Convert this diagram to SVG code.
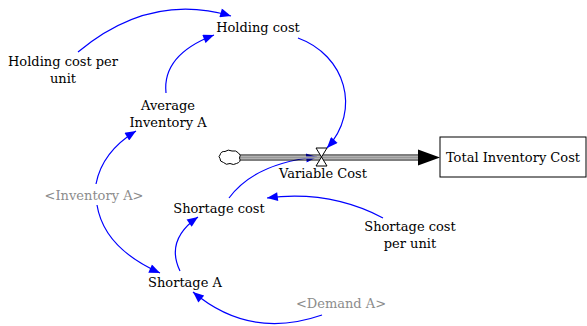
<svg xmlns="http://www.w3.org/2000/svg" width="587" height="326" viewBox="0 0 587 326">
<style>
text{font-family:'DejaVu Serif','Liberation Serif',serif;font-size:13px;text-anchor:middle;fill:#000}
.sh{fill:#8c8c8c}
.ln{fill:none;stroke:#0000ff;stroke-width:1.2;marker-end:url(#ah)}
</style>
<defs>
<marker id="ah" viewBox="0 0 12 10" refX="12" refY="5" markerWidth="12" markerHeight="9" markerUnits="userSpaceOnUse" orient="auto">
<path d="M0,0 L12,5 L0,10 z" fill="#0000ff"/>
</marker>
</defs>
<rect width="587" height="326" fill="#fff"/>
<g id="connectors">
<path class="ln" d="M78,52 Q150,-8 231,16"/>
<path class="ln" d="M166,93 Q162,55 214,35"/>
<path class="ln" d="M298,38 C345,55 362,110 327,148"/>
<path class="ln" d="M229,198 Q255,163 317,157"/>
<path class="ln" d="M383,218 Q330,190 267,198"/>
<path class="ln" d="M96,184 Q102,152 136,131"/>
<path class="ln" d="M97,205 Q104,248 160,273"/>
<path class="ln" d="M180,271 Q165,240 198,217"/>
<path class="ln" d="M322,315 Q250,340 193,292"/>
</g>
<g id="flow">
<path d="M240,155 H418 M240,160 H418" stroke="#000" stroke-width="1.2" fill="none"/>
<path d="M240,157.5 H418" stroke="#999" stroke-width="2.5" fill="none"/>
<path d="M418,149.5 L440,157.5 L418,165.5 z" fill="#000"/>
</g>
<g id="cloud">
<path d="M220,155 q1,-4 5,-3.5 q3,-2.5 7,-0.5 q4,-1 6.5,2 q3,2 1,5 q2,4 -3,5.5 q-3,2 -6.5,0 q-4,2 -6.5,-1 q-4,-1 -3.5,-4 q-2,-2 0,-3.5 z" fill="#fff" stroke="#000" stroke-width="1"/>
</g>
<g id="valve">
<path d="M316,148 L327,148 L316,166 L327,166 z" fill="#fff" stroke="#000" stroke-width="1"/>
<text x="323" y="178">Variable Cost</text>
</g>
<g id="total-inventory-cost">
<rect x="440" y="137" width="146" height="40" fill="#fff" stroke="#000" stroke-width="1"/>
<text x="513" y="162">Total Inventory Cost</text>
</g>
<g id="holding-cost"><text x="258" y="32">Holding cost</text></g>
<g id="holding-cost-per-unit"><text x="63" y="66">Holding cost per</text><text x="63" y="83">unit</text></g>
<g id="average-inventory-a"><text x="168" y="110">Average</text><text x="168" y="127">Inventory A</text></g>
<g id="inventory-a"><text class="sh" x="94" y="200">&lt;Inventory A&gt;</text></g>
<g id="shortage-cost"><text x="219" y="213">Shortage cost</text></g>
<g id="shortage-cost-per-unit"><text x="410" y="231">Shortage cost</text><text x="410" y="248">per unit</text></g>
<g id="shortage-a"><text x="185" y="287">Shortage A</text></g>
<g id="demand-a"><text class="sh" x="341" y="308">&lt;Demand A&gt;</text></g>
</svg>
